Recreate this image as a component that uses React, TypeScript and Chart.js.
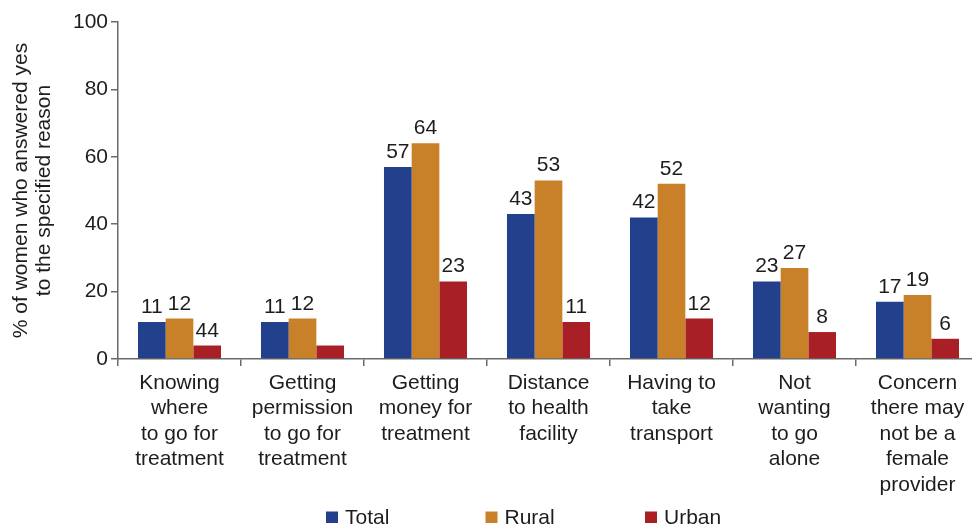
import React, { useEffect, useRef } from 'react';
import { Chart, registerables } from 'chart.js';

Chart.register(...registerables);

const categories: string[][] = [
  ['Knowing', 'where', 'to go for', 'treatment'],
  ['Getting', 'permission', 'to go for', 'treatment'],
  ['Getting', 'money for', 'treatment'],
  ['Distance', 'to health', 'facility'],
  ['Having to', 'take', 'transport'],
  ['Not', 'wanting', 'to go', 'alone'],
  ['Concern', 'there may', 'not be a', 'female', 'provider'],
];
const seriesNames = ['Total', 'Rural', 'Urban'];
const totalValues = [11, 11, 57, 43, 42, 23, 17];
const ruralValues = [12, 12, 64, 53, 52, 27, 19];
const urbanValues = [4, 4, 23, 11, 12, 8, 6];
const totalLabels = ['11', '11', '57', '43', '42', '23', '17'];
const ruralLabels = ['12', '12', '64', '53', '52', '27', '19'];
const urbanLabels = ['44', '', '23', '11', '12', '8', '6'];
const yTicks = [0, 20, 40, 60, 80, 100];
const yTitle = ['% of women who answered yes', 'to the specified reason'];

const colors = ['#22408b', '#c98129', '#a81f25'];
const FONT = "'Liberation Sans', Arial, Helvetica, sans-serif";
const TEXT = '#1f1c1d';
const AXIS = '#6a6a6a';

const valueLabels = [totalLabels, ruralLabels, urbanLabels];

const labelPlugin = {
  id: 'valueLabels',
  afterDatasetsDraw(chart: any) {
    const ctx = chart.ctx;
    ctx.save();
    ctx.font = `21px ${FONT}`;
    ctx.fillStyle = TEXT;
    ctx.textAlign = 'center';
    ctx.textBaseline = 'alphabetic';
    chart.data.datasets.forEach((ds: any, di: number) => {
      const meta = chart.getDatasetMeta(di);
      meta.data.forEach((el: any, i: number) => {
        const t = valueLabels[di][i];
        if (t) ctx.fillText(t, el.x, el.y - 9);
      });
    });
    ctx.restore();
  },
};

const legendPlugin = {
  id: 'customLegend',
  afterDraw(chart: any) {
    const ctx = chart.ctx;
    ctx.save();
    ctx.font = `21px ${FONT}`;
    ctx.textBaseline = 'middle';
    ctx.textAlign = 'left';
    const startX = 326;
    const pitch = 159.5;
    const cy = 517;
    chart.data.datasets.forEach((ds: any, i: number) => {
      const x = startX + i * pitch;
      ctx.fillStyle = ds.backgroundColor;
      ctx.fillRect(x, cy - 5.5, 12, 11.5);
      ctx.fillStyle = TEXT;
      ctx.fillText(ds.label, x + 19, cy + 1);
    });
    ctx.restore();
  },
};

export default function App() {
  const ref = useRef<HTMLCanvasElement | null>(null);

  useEffect(() => {
    if (!ref.current) return;
    const chart = new Chart(ref.current, {
      type: 'bar',
      data: {
        labels: categories,
        datasets: [
          { label: seriesNames[0], data: totalValues, backgroundColor: colors[0] },
          { label: seriesNames[1], data: ruralValues, backgroundColor: colors[1] },
          { label: seriesNames[2], data: urbanValues, backgroundColor: colors[2] },
        ].map((d) => ({ ...d, categoryPercentage: 0.675, barPercentage: 1, borderWidth: 0 })),
      },
      options: {
        animation: false,
        responsive: true,
        maintainAspectRatio: false,
        layout: { padding: { top: 22, right: 7, left: 0, bottom: 0 } },
        plugins: {
          legend: { display: false },
          tooltip: { enabled: false },
        },
        scales: {
          x: {
            grid: {
              display: true,
              drawOnChartArea: false,
              drawTicks: true,
              tickLength: 7,
              color: AXIS,
              lineWidth: 1.5,
              offset: true,
            },
            border: { display: true, color: AXIS, width: 1.5 },
            ticks: {
              color: TEXT,
              font: { family: FONT, size: 21, lineHeight: 1.22 },
              padding: 4,
              maxRotation: 0,
              minRotation: 0,
              autoSkip: false,
            },
            afterFit(scale: any) {
              scale.height = 167;
            },
          },
          y: {
            min: 0,
            max: 100,
            afterBuildTicks(scale: any) {
              scale.ticks = yTicks.map((v) => ({ value: v }));
            },
            grid: {
              display: true,
              drawOnChartArea: false,
              drawTicks: true,
              tickLength: 7,
              color: AXIS,
              lineWidth: 1.5,
            },
            border: { display: true, color: AXIS, width: 1.5 },
            ticks: {
              color: TEXT,
              font: { family: FONT, size: 21 },
              padding: 3,
            },
            title: {
              display: true,
              text: yTitle,
              color: TEXT,
              font: { family: FONT, size: 21, lineHeight: 1.1 },
              padding: { top: 10, bottom: 0 },
            },
            afterFit(scale: any) {
              scale.width = 118;
            },
          },
        },
      },
      plugins: [labelPlugin, legendPlugin],
    });
    return () => chart.destroy();
  }, []);

  return (
    <div style={{ position: 'fixed', left: 0, top: 0, width: 972, height: 526, overflow: 'hidden', background: '#fff' }}>
      <div style={{ position: 'relative', width: 986, height: 526 }}>
        <canvas ref={ref} />
      </div>
    </div>
  );
}
